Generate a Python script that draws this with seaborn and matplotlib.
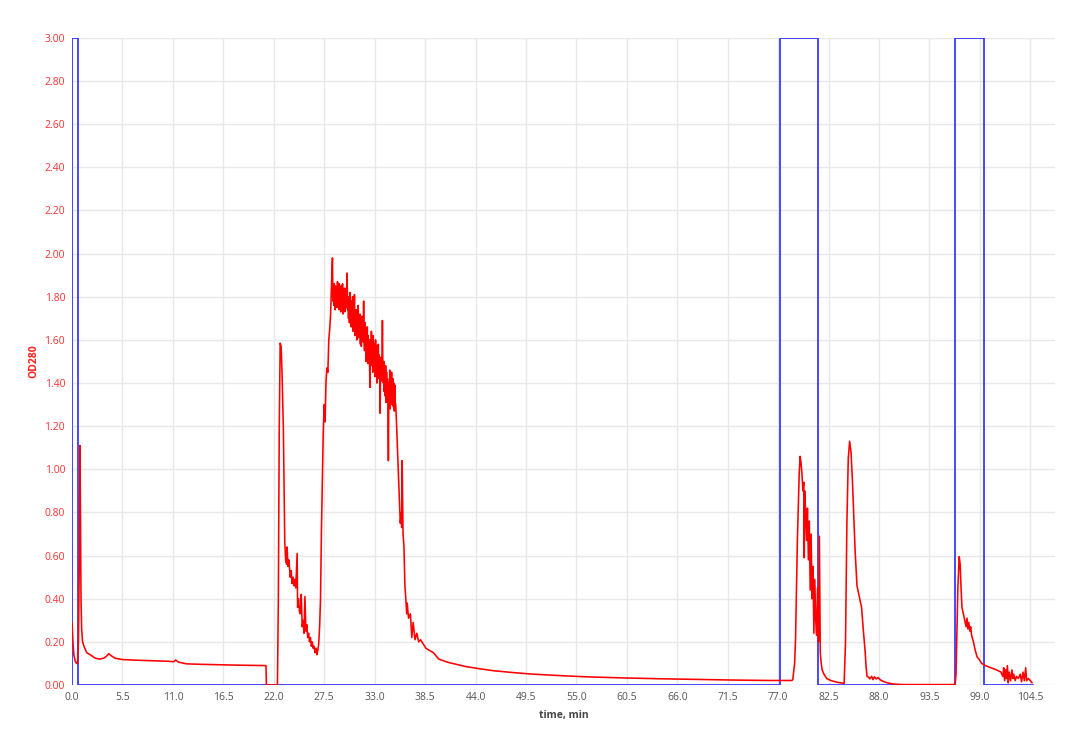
import matplotlib
matplotlib.use("Agg")
import matplotlib.pyplot as plt
import seaborn as sns
import pandas as pd
from matplotlib.ticker import FormatStrFormatter

# ---------------- data ----------------
# OD280 trace, as (time [min], OD) points, split in segments
od_injection = [
    (0.0, 0.29), (0.1, 0.20), (0.2, 0.14), (0.35, 0.11), (0.5, 0.10), (0.6, 0.10),
    (0.7, 0.20), (0.8, 0.60), (0.87, 1.11), (0.93, 0.75), (0.98, 0.40), (1.05, 0.26),
    (1.15, 0.20), (1.3, 0.18), (1.6, 0.15), (2.0, 0.14), (2.5, 0.125), (3.0, 0.12),
    (3.5, 0.125), (3.8, 0.135), (4.0, 0.145), (4.3, 0.135), (4.7, 0.124), (5.5, 0.118),
    (7.0, 0.115), (9.0, 0.112), (10.5, 0.11), (11.1, 0.108), (11.3, 0.116), (11.6, 0.106),
    (12.5, 0.098), (14.0, 0.096), (16.0, 0.094), (18.0, 0.092), (20.0, 0.091),
    (21.15, 0.09), (21.2, 0.0), (22.4, 0.0),
]
od_first_peak = [
    (22.5, 0.40), (22.6, 1.20), (22.7, 1.585), (22.8, 1.57), (22.9, 1.45), (23.05, 1.18),
    (23.2, 0.66), (23.3, 0.58), (23.4, 0.56), (23.45, 0.64), (23.55, 0.55), (23.65, 0.58),
    (23.8, 0.50), (23.9, 0.53), (24.0, 0.47), (24.1, 0.50), (24.2, 0.46), (24.3, 0.49),
    (24.4, 0.45), (24.55, 0.61), (24.6, 0.36), (24.7, 0.40), (24.8, 0.34), (24.9, 0.33),
    (25.0, 0.42), (25.1, 0.27), (25.2, 0.30), (25.3, 0.24), (25.4, 0.41), (25.5, 0.25),
    (25.6, 0.28), (25.7, 0.22), (25.8, 0.24), (25.9, 0.20), (26.0, 0.22), (26.1, 0.18),
    (26.2, 0.20), (26.3, 0.17), (26.4, 0.18), (26.5, 0.15), (26.6, 0.17), (26.7, 0.14),
    (26.8, 0.16), (26.9, 0.19), (27.0, 0.27),
]
od_main_rise = [
    (27.1, 0.40), (27.2, 0.72), (27.3, 0.95), (27.4, 1.18), (27.5, 1.30), (27.6, 1.22),
    (27.7, 1.41), (27.8, 1.47), (27.9, 1.45), (28.0, 1.60), (28.1, 1.65), (28.2, 1.72),
    (28.3, 1.86), (28.4, 1.98), (28.45, 1.78),
]
od_main_plateau = [
    (28.50, 1.84), (28.55, 1.76), (28.60, 1.86), (28.65, 1.78), (28.70, 1.74),
    (28.75, 1.85), (28.80, 1.79), (28.85, 1.82), (28.90, 1.75), (28.95, 1.87),
    (29.00, 1.77), (29.05, 1.83), (29.10, 1.74), (29.15, 1.86), (29.20, 1.78),
    (29.25, 1.81), (29.30, 1.73), (29.35, 1.85), (29.40, 1.76), (29.45, 1.80),
    (29.50, 1.86), (29.55, 1.72), (29.60, 1.81), (29.65, 1.77), (29.70, 1.84),
    (29.75, 1.73), (29.80, 1.80), (29.85, 1.75), (29.90, 1.84), (29.95, 1.78),
    (30.00, 1.91), (30.05, 1.74), (30.10, 1.80), (30.15, 1.70), (30.20, 1.79),
    (30.25, 1.68), (30.30, 1.82), (30.35, 1.72), (30.40, 1.76), (30.45, 1.66),
    (30.50, 1.78), (30.55, 1.69), (30.60, 1.80), (30.65, 1.64), (30.70, 1.75),
    (30.75, 1.70), (30.80, 1.81), (30.85, 1.62), (30.90, 1.74), (30.95, 1.67),
    (31.00, 1.74), (31.05, 1.60), (31.10, 1.72), (31.15, 1.65), (31.20, 1.76),
    (31.25, 1.61), (31.30, 1.70), (31.35, 1.63), (31.40, 1.72), (31.45, 1.58),
    (31.50, 1.69), (31.55, 1.57), (31.60, 1.71), (31.65, 1.62), (31.70, 1.66),
    (31.75, 1.59), (31.80, 1.78), (31.85, 1.60), (31.90, 1.55), (31.95, 1.68),
    (32.00, 1.66), (32.05, 1.50), (32.10, 1.63), (32.15, 1.56), (32.20, 1.66),
    (32.25, 1.49), (32.30, 1.62), (32.35, 1.54), (32.40, 1.60), (32.45, 1.47),
    (32.50, 1.38), (32.55, 1.60), (32.60, 1.52), (32.65, 1.64), (32.70, 1.48),
    (32.75, 1.59), (32.80, 1.45), (32.85, 1.62), (32.90, 1.50), (32.95, 1.56),
    (33.00, 1.58), (33.05, 1.43), (33.10, 1.60), (33.15, 1.48), (33.20, 1.57),
    (33.25, 1.40), (33.30, 1.55), (33.35, 1.46), (33.40, 1.58), (33.45, 1.42),
    (33.50, 1.53), (33.55, 1.44), (33.60, 1.26), (33.65, 1.50), (33.70, 1.52),
    (33.75, 1.41), (33.80, 1.48), (33.85, 1.69), (33.90, 1.43), (33.95, 1.40),
    (34.00, 1.50), (34.05, 1.36), (34.10, 1.47), (34.15, 1.34), (34.20, 1.48),
    (34.25, 1.31), (34.30, 1.45), (34.35, 1.35), (34.40, 1.42), (34.45, 1.30),
    (34.50, 1.04), (34.55, 1.40), (34.60, 1.33), (34.65, 1.46), (34.70, 1.28),
    (34.75, 1.42), (34.80, 1.31), (34.85, 1.45), (34.90, 1.30), (34.95, 1.38),
    (35.00, 1.42), (35.05, 1.29), (35.10, 1.40), (35.15, 1.27), (35.20, 1.39),
    (35.25, 1.31), (35.30, 1.30),
]
od_main_tail = [
    (35.4, 1.20), (35.5, 1.08), (35.6, 0.97), (35.7, 0.86), (35.8, 0.75),
    (35.9, 0.80), (35.95, 0.73), (36.0, 1.04), (36.1, 0.70), (36.2, 0.64), (36.3, 0.46),
    (36.4, 0.40), (36.5, 0.33), (36.55, 0.38), (36.7, 0.31), (36.9, 0.33), (37.05, 0.22),
    (37.2, 0.29), (37.4, 0.21), (37.6, 0.24), (37.8, 0.20), (38.0, 0.21), (38.3, 0.19),
    (38.6, 0.17), (39.0, 0.16), (39.4, 0.15), (40.0, 0.12), (41.0, 0.105), (42.0, 0.095),
    (43.0, 0.085), (44.5, 0.075), (46.0, 0.066), (48.0, 0.058), (50.0, 0.051),
    (53.0, 0.044), (56.0, 0.038), (60.0, 0.033), (64.0, 0.029), (68.0, 0.026),
    (72.0, 0.023), (76.0, 0.021), (78.5, 0.021),
]
od_elution = [
    (78.6, 0.025), (78.8, 0.10), (78.9, 0.21), (79.1, 0.67), (79.3, 0.98), (79.4, 1.06),
    (79.5, 1.03), (79.6, 0.98), (79.7, 0.90), (79.8, 0.94), (79.85, 0.59), (79.9, 0.90),
    (80.0, 0.80), (80.1, 0.67), (80.2, 0.82), (80.3, 0.58), (80.4, 0.76), (80.5, 0.44),
    (80.6, 0.70), (80.7, 0.40), (80.8, 0.55), (80.9, 0.24), (81.0, 0.49), (81.1, 0.30),
    (81.2, 0.23), (81.3, 0.45), (81.4, 0.20), (81.5, 0.69), (81.6, 0.15), (81.7, 0.10),
    (81.8, 0.07), (82.0, 0.05), (82.3, 0.03), (82.8, 0.02), (83.5, 0.012), (84.2, 0.008),
    (84.35, 0.20), (84.5, 0.75), (84.65, 1.05), (84.8, 1.13), (84.95, 1.08), (85.1, 0.95),
    (85.2, 0.84), (85.4, 0.62), (85.6, 0.46), (85.7, 0.44), (85.8, 0.42), (86.0, 0.38),
    (86.1, 0.36), (86.3, 0.25), (86.5, 0.15), (86.6, 0.08), (86.7, 0.04), (86.9, 0.035),
    (87.0, 0.028), (87.2, 0.04), (87.35, 0.025), (87.5, 0.038), (87.7, 0.028),
    (87.9, 0.035), (88.1, 0.025), (88.4, 0.018), (88.9, 0.01), (89.5, 0.005),
    (90.5, 0.002), (96.3, 0.002),
]
od_cip = [
    (96.4, 0.05), (96.6, 0.45), (96.75, 0.595), (96.85, 0.56), (96.95, 0.45), (97.05, 0.36),
    (97.2, 0.33), (97.35, 0.30), (97.5, 0.27), (97.6, 0.31), (97.7, 0.26), (97.8, 0.29),
    (97.9, 0.25), (98.0, 0.27), (98.1, 0.23), (98.3, 0.20), (98.5, 0.16), (98.7, 0.13),
    (98.9, 0.12), (99.2, 0.10), (99.6, 0.09), (100.2, 0.08), (100.8, 0.07), (101.3, 0.06),
    (101.5, 0.04), (101.6, 0.08), (101.7, 0.02), (101.8, 0.07), (101.9, 0.03), (102.0, 0.09),
    (102.1, 0.01), (102.2, 0.06), (102.35, 0.02), (102.5, 0.07), (102.6, 0.03), (102.7, 0.05),
    (102.85, 0.02), (103.0, 0.04), (103.2, 0.03), (103.4, 0.05), (103.55, 0.015),
    (103.7, 0.06), (103.85, 0.02), (104.0, 0.08), (104.1, 0.02), (104.3, 0.03),
    (104.5, 0.02), (104.7, 0.01),
]

# Fraction / valve marker (square wave between 0 and 3)
marker_time = [0.0, 0.0, 0.6, 0.6, 77.25, 77.25, 81.3, 81.3, 96.3, 96.3, 99.4, 99.4, 104.8]
marker_level = [0, 3, 3, 0, 0, 3, 3, 0, 0, 3, 3, 0, 0]

x_ticks = [0.0, 5.5, 11.0, 16.5, 22.0, 27.5, 33.0, 38.5, 44.0, 49.5, 55.0, 60.5,
           66.0, 71.5, 77.0, 82.5, 88.0, 93.5, 99.0, 104.5]
y_ticks = [0.0, 0.2, 0.4, 0.6, 0.8, 1.0, 1.2, 1.4, 1.6, 1.8, 2.0, 2.2, 2.4, 2.6, 2.8, 3.0]

# ---------------- plotting ----------------
sns.set_theme(style="whitegrid")
plt.rcParams["font.family"] = ["Open Sans", "DejaVu Sans"]

red_pts = (od_injection + od_first_peak + od_main_rise + od_main_plateau
           + od_main_tail + od_elution + od_cip)
df_red = pd.DataFrame(red_pts, columns=["time", "od"])
df_blue = pd.DataFrame({"time": marker_time, "level": marker_level})

fig = plt.figure(figsize=(10.67, 7.44), dpi=100)
ax = fig.add_axes([0.0675, 0.0793, 0.9213, 0.8697])

sns.lineplot(data=df_blue, x="time", y="level", sort=False, estimator=None,
             color="#3a3aff", linewidth=1.3, ax=ax)
sns.lineplot(data=df_red, x="time", y="od", sort=False, estimator=None,
             color="#ff0000", linewidth=1.15, ax=ax)

ax.set_xlim(0, 107.2)
ax.set_ylim(0, 3.0)
ax.set_xticks(x_ticks)
ax.set_yticks(y_ticks)
ax.xaxis.set_major_formatter(FormatStrFormatter("%.1f"))
ax.yaxis.set_major_formatter(FormatStrFormatter("%.2f"))

ax.grid(True, color="#e8e8e8", linewidth=1.0)
ax.set_facecolor("white")
for s in ax.spines.values():
    s.set_visible(False)

ax.tick_params(axis="x", length=0, pad=5, labelsize=7.5, labelcolor="#555555")
ax.tick_params(axis="y", length=0, pad=5, labelsize=7.5, labelcolor="#ff3030")

ax.set_xlabel("time, min", fontsize=7.5, fontweight="bold", color="#444444", labelpad=5)
ax.set_ylabel("OD280", fontsize=7.5, fontweight="bold", color="#ff2020", labelpad=4)

fig.savefig("out.png", dpi=100, facecolor="white")
